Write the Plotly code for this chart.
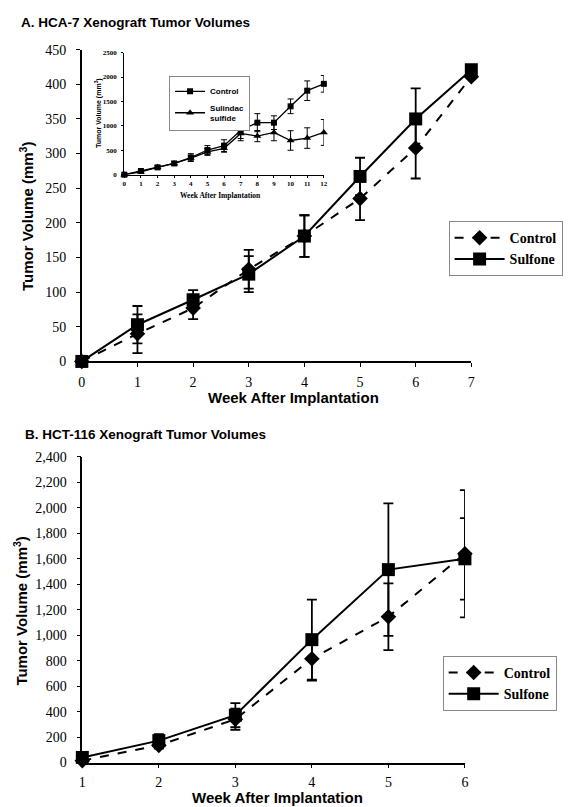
import plotly.graph_objects as go

# ---------------- data ----------------
# Panel A (HCA-7), main chart
a_weeks = [0, 1, 2, 3, 4, 5, 6, 7]
a_control = [0, 40, 77, 133, 181, 235, 308, 411]
a_control_err = [0, 28, 16, 28, 30, 31, 44, 0]
a_sulfone = [0, 53, 89, 126, 181, 267, 350, 421]
a_sulfone_err = [0, 27, 14, 26, 30, 27, 44, 0]
a_xticks = [0, 1, 2, 3, 4, 5, 6, 7]
a_yticks = [0, 50, 100, 150, 200, 250, 300, 350, 400, 450]

# Panel A inset
in_weeks = [0, 1, 2, 3, 4, 5, 6, 7, 8, 9, 10, 11, 12]
in_control = [0, 75, 150, 230, 350, 505, 595, 910, 1065, 1065, 1400, 1720, 1860]
in_control_err = [20, 30, 30, 40, 80, 90, 120, 170, 185, 140, 150, 200, 170]
in_sulfide = [0, 60, 150, 230, 340, 465, 540, 845, 790, 865, 700, 750, 865]
in_sulfide_err = [20, 30, 30, 40, 60, 70, 80, 150, 115, 170, 200, 210, 265]
in_xticks = [0, 1, 2, 3, 4, 5, 6, 7, 8, 9, 10, 11, 12]
in_yticks = [0, 500, 1000, 1500, 2000, 2500]

# Panel B (HCT-116)
b_weeks = [1, 2, 3, 4, 5, 6]
b_control = [15, 135, 340, 815, 1145, 1640]
b_control_err = [10, 25, 83, 172, 262, 500]
b_sulfone = [40, 172, 372, 965, 1515, 1600]
b_sulfone_err = [15, 50, 95, 315, 520, 320]
b_xticks = [1, 2, 3, 4, 5, 6]
b_yticks = [0, 200, 400, 600, 800, 1000, 1200, 1400, 1600, 1800, 2000, 2200, 2400]

# ---------------- layout helpers ----------------
W, H = 575, 807
def px(x):
    return x / W
def py(y):
    return 1 - y / H

SANS = "Liberation Sans"
SERIF = "Liberation Serif"

fig = go.Figure()

def err(vals, thick=1.8, width=5):
    return dict(type="data", array=vals, visible=True, color="black",
                thickness=thick, width=width)

# Panel A main
fig.add_trace(go.Scatter(
    x=a_weeks, y=a_control, name="Control", mode="lines+markers",
    line=dict(color="black", width=2, dash="dash"),
    marker=dict(symbol="diamond", size=12, color="black"),
    error_y=err(a_control_err), xaxis="x", yaxis="y", legend="legend",
    cliponaxis=False))
fig.add_trace(go.Scatter(
    x=a_weeks, y=a_sulfone, name="Sulfone", mode="lines+markers",
    line=dict(color="black", width=2),
    marker=dict(symbol="square", size=13, color="black"),
    error_y=err(a_sulfone_err), xaxis="x", yaxis="y", legend="legend",
    cliponaxis=False))

# Inset
fig.add_trace(go.Scatter(
    x=in_weeks, y=in_control, name="Control", mode="lines+markers",
    line=dict(color="black", width=1.3),
    marker=dict(symbol="square", size=6, color="black"),
    error_y=err(in_control_err, 1, 3), xaxis="x3", yaxis="y3", legend="legend3",
    cliponaxis=False))
fig.add_trace(go.Scatter(
    x=in_weeks, y=in_sulfide, name="Sulindac<br>sulfide", mode="lines+markers",
    line=dict(color="black", width=1.3),
    marker=dict(symbol="triangle-up", size=7, color="black"),
    error_y=err(in_sulfide_err, 1, 3), xaxis="x3", yaxis="y3", legend="legend3",
    cliponaxis=False))

# Panel B
fig.add_trace(go.Scatter(
    x=b_weeks, y=b_control, name="Control", mode="lines+markers",
    line=dict(color="black", width=2, dash="dash"),
    marker=dict(symbol="diamond", size=12, color="black"),
    error_y=err(b_control_err), xaxis="x2", yaxis="y2", legend="legend2",
    cliponaxis=False))
fig.add_trace(go.Scatter(
    x=b_weeks, y=b_sulfone, name="Sulfone", mode="lines+markers",
    line=dict(color="black", width=2),
    marker=dict(symbol="square", size=13, color="black"),
    error_y=err(b_sulfone_err), xaxis="x2", yaxis="y2", legend="legend2",
    cliponaxis=False))

main_axis = dict(showline=True, linecolor="black", linewidth=1.6, showgrid=False,
                 zeroline=False, ticks="outside", ticklen=4, tickcolor="black",
                 tickfont=dict(family=SERIF, size=14, color="black"))
inset_axis = dict(showline=True, linecolor="black", linewidth=1.2, showgrid=False,
                  zeroline=False, ticks="outside", ticklen=2, tickcolor="black",
                  tickfont=dict(family=SERIF, size=7, color="black", weight="bold"))

fig.update_layout(
    width=W, height=H, margin=dict(l=0, r=0, t=0, b=0),
    paper_bgcolor="white", plot_bgcolor="rgba(0,0,0,0)",
    xaxis=dict(main_axis, domain=[px(71.7), px(466)], range=[0, 7],
               tickvals=a_xticks, anchor="y", ticklabelstandoff=3),
    yaxis=dict(main_axis, domain=[py(353), py(35.3)], range=[0, 450],
               tickvals=a_yticks, anchor="x", ticklabelstandoff=7),
    xaxis3=dict(inset_axis, domain=[px(114.7), px(316.7)], range=[0, 12],
                tickvals=in_xticks, anchor="y3"),
    yaxis3=dict(inset_axis, domain=[py(162.7), py(38.3)], range=[0, 2500],
                tickvals=in_yticks, anchor="x3", ticklabelstandoff=3),
    xaxis2=dict(main_axis, domain=[px(72.2), px(459.5)], range=[1, 6],
                tickvals=b_xticks, anchor="y2", ticklabelstandoff=2),
    yaxis2=dict(main_axis, domain=[py(761.7), py(450.3)], range=[0, 2400],
                tickvals=b_yticks, tickformat=",", anchor="x2", ticklabelstandoff=7),
    legend=dict(x=px(443), y=py(210), xanchor="left", yanchor="top",
                bordercolor="#888", borderwidth=1, bgcolor="white",
                font=dict(family=SERIF, size=14, color="black", weight="bold"),
                tracegroupgap=0, itemwidth=50),
    legend2=dict(x=px(437), y=py(653), xanchor="left", yanchor="top",
                 bordercolor="#888", borderwidth=1, bgcolor="white",
                 font=dict(family=SERIF, size=14, color="black", weight="bold"),
                 tracegroupgap=0, itemwidth=50),
    legend3=dict(x=px(160), y=py(62), xanchor="left", yanchor="top",
                 bordercolor="#888", borderwidth=1, bgcolor="white",
                 font=dict(family=SANS, size=8, color="black", weight="bold"),
                 tracegroupgap=0, itemwidth=30),
    showlegend=True,
)

ann = []
def text(x, y, s, size, family=SANS, angle=0, xanchor="center"):
    ann.append(dict(x=px(x), y=py(y), xref="paper", yref="paper", text=s,
                    showarrow=False, xanchor=xanchor, yanchor="middle",
                    textangle=angle,
                    font=dict(family=family, size=size, color="black", weight="bold")))

text(8, 8, "A. HCA-7 Xenograft Tumor Volumes", 13.5, xanchor="left")
text(12, 427, "B. HCT-116 Xenograft Tumor Volumes", 13.5, xanchor="left")
text(286, 390, "Week After Implantation", 15)
text(269.5, 797, "Week After Implantation", 15)
text(15, 205, "Tumor Volume (mm<sup>3</sup>)", 15, angle=-90)
text(10, 607, "Tumor Volume (mm<sup>3</sup>)", 15, angle=-90)
text(212, 184, "Week After Implantation", 7.5, family=SERIF)
text(88, 100, "Tumor Volume (mm<sup>3</sup>)", 7, angle=-90)
fig.update_layout(annotations=ann)

fig.write_html("out.html")
